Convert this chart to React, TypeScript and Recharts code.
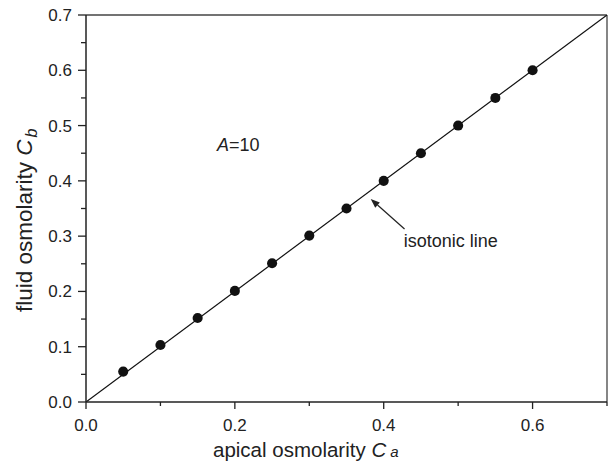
import React from "react";
import {
  ComposedChart,
  Line,
  Scatter,
  XAxis,
  YAxis,
  ZAxis,
  ReferenceLine,
  ReferenceDot,
} from "recharts";

// apical osmolarity C_a vs fluid osmolarity C_b, A = 10
const apical = [0.05, 0.1, 0.15, 0.2, 0.25, 0.3, 0.35, 0.4, 0.45, 0.5, 0.55, 0.6];
const fluid = [0.055, 0.103, 0.152, 0.201, 0.251, 0.301, 0.35, 0.4, 0.45, 0.5, 0.55, 0.6];

// isotonic line C_b = C_a
const isoX = [0, 0.7];
const isoY = [0, 0.7];

const xTicks = [0, 0.1, 0.2, 0.3, 0.4, 0.5, 0.6, 0.7];
const yTicks = [0, 0.05, 0.1, 0.15, 0.2, 0.25, 0.3, 0.35, 0.4, 0.45, 0.5, 0.55, 0.6, 0.65, 0.7];

const points = apical.map((x, i) => ({ x, y: fluid[i] }));
const isoLine = isoX.map((x, i) => ({ x, y: isoY[i] }));

const FONT = '"Liberation Sans", Arial, Helvetica, sans-serif';
const INK = "#222";

const isMajor = (v: number) => Math.abs(v * 10 - Math.round(v * 10)) < 1e-6 && Math.round(v * 10) % 2 === 0;
const isTenth = (v: number) => Math.abs(v * 10 - Math.round(v * 10)) < 1e-6;

const XTick = (props: any) => {
  const { x, y, payload } = props;
  const major = isMajor(payload.value);
  return (
    <g>
      <line x1={x} x2={x} y1={y} y2={y + (major ? 7 : 4)} stroke={INK} strokeWidth={1.3} />
      {major && (
        <text x={x} y={y + 29} textAnchor="middle" fontSize={17} fill={INK} fontFamily={FONT}>
          {payload.value.toFixed(1)}
        </text>
      )}
    </g>
  );
};

const YTick = (props: any) => {
  const { x, y, payload } = props;
  const major = isTenth(payload.value);
  return (
    <g>
      <line x1={x} x2={x - (major ? 8 : 5)} y1={y} y2={y} stroke={INK} strokeWidth={1.3} />
      {major && (
        <text x={x - 14} y={y + 6} textAnchor="end" fontSize={17} fill={INK} fontFamily={FONT}>
          {payload.value.toFixed(1)}
        </text>
      )}
    </g>
  );
};

const XTitle = (props: any) => {
  const vb = props.viewBox;
  return (
    <text x={vb.x + 127} y={vb.y + 55} fontSize={20.5} fill={INK} fontFamily={FONT}>
      apical osmolarity{" "}
      <tspan fontStyle="italic">C</tspan>
      <tspan fontStyle="italic" fontSize={15} dx={4}>a</tspan>
    </text>
  );
};

const YTitle = () => (
  <text
    x={32}
    y={312}
    textAnchor="start"
    transform="rotate(-90, 32, 312)"
    fontSize={22.5}
    fill={INK}
    fontFamily={FONT}
  >
    fluid osmolarity <tspan fontStyle="italic">C</tspan>
    <tspan fontStyle="italic" fontSize={16} dx={2} dy={5}>b</tspan>
  </text>
);

const AText = (props: any) => (
  <text x={props.cx} y={props.cy} fontSize={18} fill={INK} fontFamily={FONT}>
    <tspan fontStyle="italic">A</tspan>=10
  </text>
);

const IsoText = (props: any) => (
  <text x={props.cx} y={props.cy} fontSize={18} fill={INK} fontFamily={FONT}>
    isotonic line
  </text>
);

const Arrow = (props: any) => {
  const { x1, y1, x2, y2 } = props;
  const ang = Math.atan2(y2 - y1, x2 - x1);
  const len = 9;
  const w = 3.5;
  const bx = x2 - len * Math.cos(ang);
  const by = y2 - len * Math.sin(ang);
  const px = -Math.sin(ang) * w;
  const py = Math.cos(ang) * w;
  return (
    <g>
      <line x1={x1} y1={y1} x2={bx} y2={by} stroke={INK} strokeWidth={1.2} />
      <polygon points={`${x2},${y2} ${bx + px},${by + py} ${bx - px},${by - py}`} fill={INK} />
    </g>
  );
};

export default function App() {
  return (
    <div style={{ position: "absolute", left: 0, top: 0, background: "#fff" }}>
      <ComposedChart
        width={611}
        height={467}
        margin={{ top: 15, right: 4, bottom: 0, left: 0 }}
      >
        <XAxis
          type="number"
          dataKey="x"
          domain={[0, 0.7]}
          ticks={xTicks}
          interval={0}
          tickSize={0}
          tickMargin={0}
          tickLine={false}
          tick={<XTick />}
          height={65}
          axisLine={{ stroke: INK, strokeWidth: 1.5 }}
          allowDataOverflow
          label={<XTitle />}
        />
        <YAxis
          type="number"
          dataKey="y"
          domain={[0, 0.7]}
          ticks={yTicks}
          interval={0}
          tickSize={0}
          tickMargin={0}
          tickLine={false}
          tick={<YTick />}
          width={86}
          axisLine={{ stroke: INK, strokeWidth: 1.5 }}
          allowDataOverflow
          label={<YTitle />}
        />
        <ZAxis range={[80, 80]} />
        <ReferenceLine y={0.7} stroke="#444" strokeWidth={1.3} />
        <ReferenceLine x={0.7} stroke="#444" strokeWidth={1.3} />
        <Line
          data={isoLine}
          dataKey="y"
          type="linear"
          stroke="#111"
          strokeWidth={1.2}
          dot={false}
          activeDot={false}
          isAnimationActive={false}
        />
        <Scatter data={points} dataKey="y" fill="#111" isAnimationActive={false} />
        <ReferenceDot x={0.176} y={0.454} r={0} shape={<AText />} />
        <ReferenceDot x={0.427} y={0.28} r={0} shape={<IsoText />} />
        <ReferenceLine
          segment={[
            { x: 0.428, y: 0.313 },
            { x: 0.3826, y: 0.367 },
          ]}
          shape={<Arrow />}
        />
      </ComposedChart>
    </div>
  );
}
